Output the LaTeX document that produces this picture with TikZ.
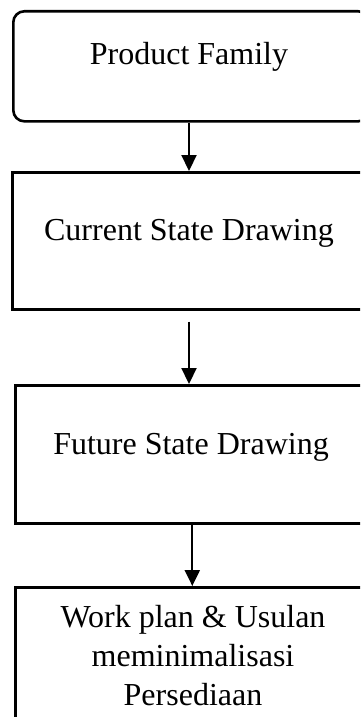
\documentclass[tikz,border=0pt]{standalone}
\usepackage{fontspec}
\setmainfont{Liberation Serif}
\usetikzlibrary{arrows.meta}
\begin{document}
\begin{tikzpicture}[x=1pt,y=-1pt,
  box/.style={draw=black,line width=2.6pt,inner sep=0pt,anchor=north west,fill=none},
  label/.style={font=\fontsize{32}{39}\selectfont,inner sep=0pt,anchor=base,align=center},
  arr/.style={line width=2.2pt,-{Triangle[width=15pt,length=16pt]}}]
  \fill[white] (0,0) rectangle (360,717);
  \clip (0,0) rectangle (360,717);
  % flow boxes (right and lower edges run past the page)
  \node[box,rounded corners=11pt,minimum width=356pt,minimum height=110pt] (b1) at (12,10) {};
  \node[box,minimum width=357pt,minimum height=137pt] (b2) at (11,171) {};
  \node[box,minimum width=354pt,minimum height=138pt] (b3) at (14,384) {};
  \node[box,minimum width=354pt,minimum height=160pt] (b4) at (14,586) {};
  % box texts
  \node[label] (t1) at (189,65) {Product Family};
  \node[label] (t2) at (189,240) {Current State Drawing};
  \node[label] (t3) at (191,454) {Future State Drawing};
  \node[label] (t4) at (193,705) {Work plan \& Usulan\\meminimalisasi\\Persediaan};
  % connectors
  \draw[arr] (b1.south -| t2) -- (b2.north -| t2);
  \draw[arr] ([yshift=-11pt]b2.south -| t2) -- (b3.north -| t2);
  \draw[arr] (b3.south) -- (b4.north -| b3.south);
\end{tikzpicture}
\end{document}
